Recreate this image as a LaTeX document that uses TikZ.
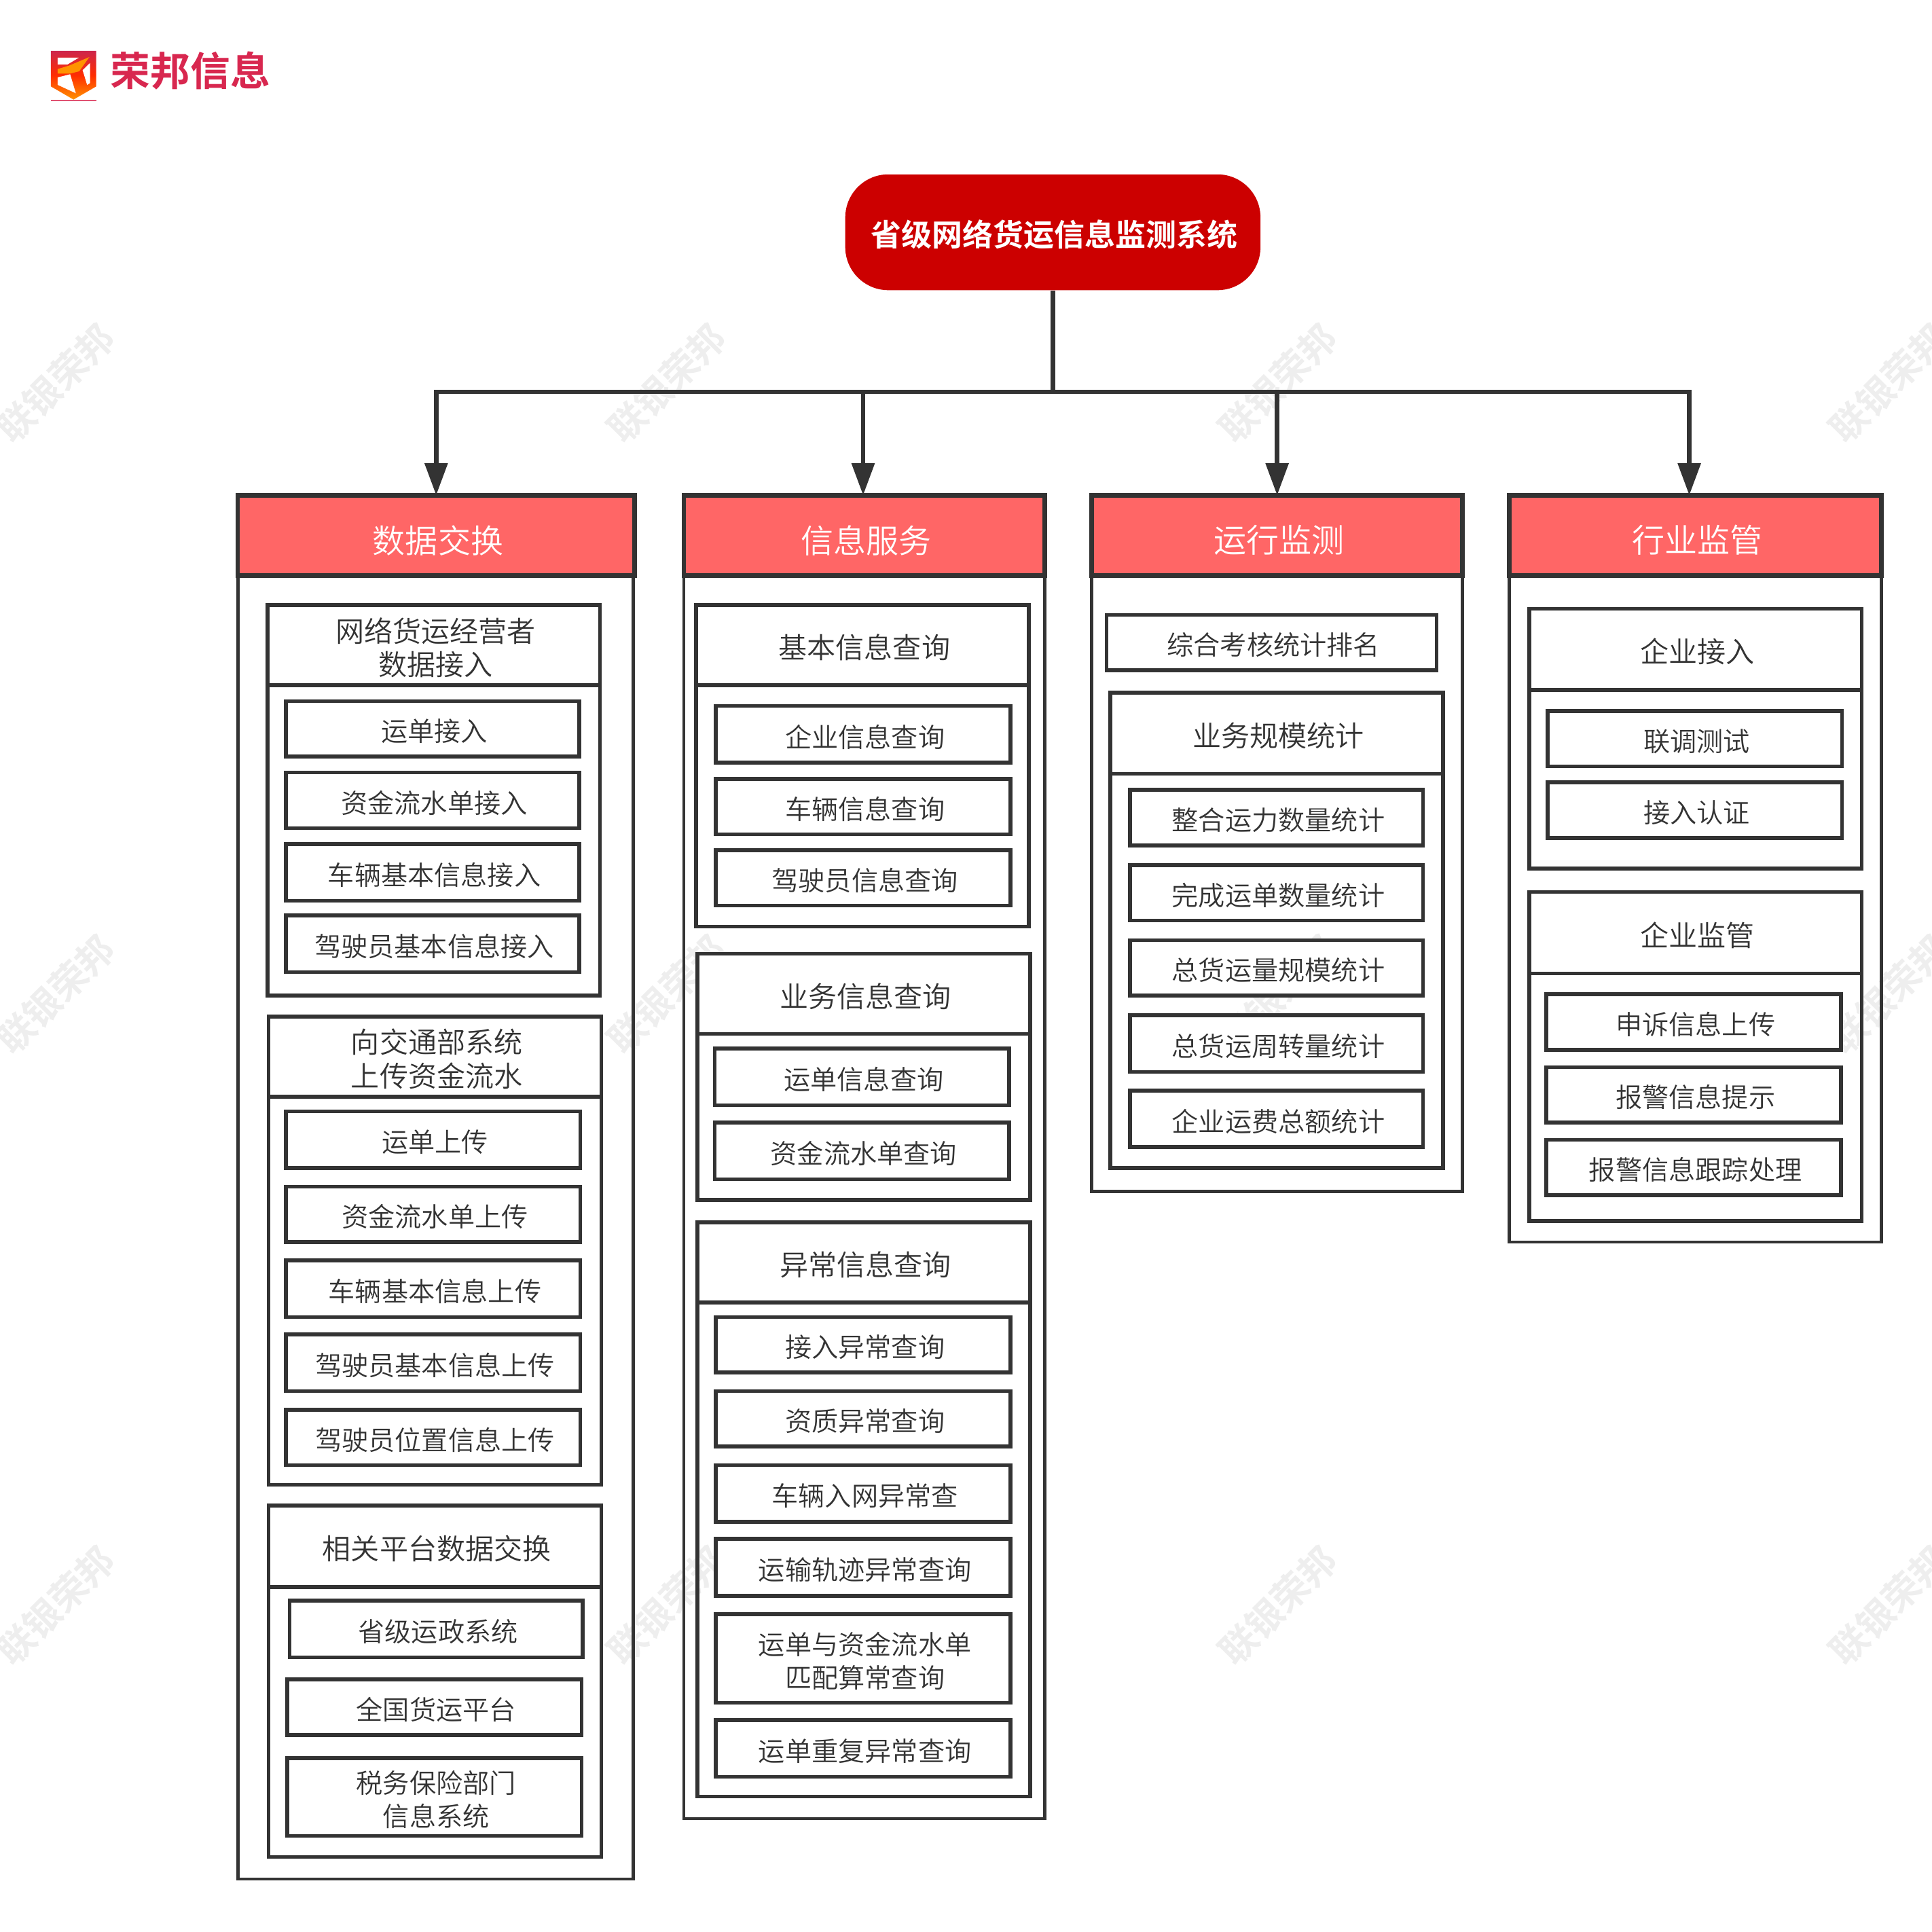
\documentclass[tikz,border=0pt]{standalone}
\usepackage{fontspec}
\setmainfont{Noto Sans CJK SC}[UprightFont=* DemiLight,BoldFont=* Bold]
\usetikzlibrary{arrows.meta}
\definecolor{ink}{HTML}{333333}
\definecolor{headred}{HTML}{FF6666}
\definecolor{titlered}{HTML}{CC0000}
\definecolor{logored}{HTML}{D8274F}
\definecolor{wm}{HTML}{EEEEEE}
\tikzset{
  plainbox/.style={draw=ink,fill=white,line width=1.55pt,inner sep=0pt,outer sep=0pt,text=ink,align=center},
  outerbody/.style={plainbox,fill=none,line width=1.3pt},
  colhead/.style={plainbox,fill=headred,text=white,line width=1.8pt,font=\fontsize{13.25}{16}\selectfont},
  subbody/.style={plainbox,fill=none},
  subhead/.style={plainbox,font=\fontsize{11.6}{13.6}\selectfont},
  itembox/.style={plainbox,font=\fontsize{10.8}{13.4}\selectfont},
  conn/.style={draw=ink,line width=1.85pt},
  arrowconn/.style={conn,-{Triangle[length=13pt,width=9pt]}},
  watermark/.style={text=wm,rotate=45,font=\fontsize{15}{18}\bfseries,inner sep=0pt},
}
\newcommand{\bx}[8][1pt]{%
  \node[#3,minimum width={(#6-#4)*0.5pt},minimum height={(#7-#5)*0.5pt}] (#2) at ({(#4+#6)/2},{(#5+#7)/2}) {};
  \node[#3,draw=none,fill=none,xshift=0.75pt,yshift=-#1] (#2t) at ({(#4+#6)/2},{(#5+#7)/2}) {#8};}
\newcommand{\bxe}[6]{\node[#2,minimum width={(#5-#3)*0.5pt},minimum height={(#6-#4)*0.5pt}] (#1) at ({(#3+#5)/2},{(#4+#6)/2}) {};}
\begin{document}
\begin{tikzpicture}[x=0.5pt,y=-0.5pt]
\useasboundingbox (0,0) rectangle (1568,1567.45);
\clip (0,0) rectangle (1568,1567.45);
\fill[white] (0,0) rectangle (1568,1567.45);
% watermarks
\foreach \wx/\wy [count=\wi] in {45/311,541/311,1037/311,1533/311,45/807,541/807,1037/807,1533/807,45/1303,541/1303,1037/1303,1533/1303}
  \node[watermark] (wm\wi) at (\wx,\wy) {联银荣邦};
% logo
\begin{scope}[shift={(11.02pt,-11.02pt)},x=0.09185pt,y=-0.09185pt]
  \shade[top color=logored!95!black,bottom color=orange!85!yellow,middle color=red!65!orange]
    (105,105) -- (305,105) -- (305,262) -- (205,320) -- (105,262) -- cycle;
  \fill[white] (135,135) -- (228,135) -- (178,165) -- (135,165) -- cycle;
  \fill[white] (135,222) -- (190,208) -- (215,292) -- (135,255) -- cycle;
  \fill[white] (278,158) -- (245,190) -- (265,255) -- (278,247) -- cycle;
  \fill[orange!85!yellow] (135,185) -- (185,170) -- (275,132) -- (230,195) -- (190,205) -- (135,205) -- cycle;
  \draw[logored!80!white,line width=0.6pt] (105,323) -- (305,323);
\end{scope}
\node[text=logored,font=\fontsize{16.2}{18}\bfseries,inner sep=0pt] (logotext) at (154.5,57.5) {荣邦信息};
% title
\node[fill=titlered,text=white,rounded corners=17.5pt,inner sep=0pt,minimum width=168.5pt,minimum height=47pt,font=\fontsize{12.4}{15}\bfseries] (title) at (854.5,188.5) {\hspace*{1pt}\raisebox{-1pt}[\height][\depth]{省级网络货运信息监测系统}};
% column 1
\bxe{c1b}{outerbody}{193}{467}{514}{1525}
\bx[2pt]{c1h}{colhead}{193}{402}{515}{467}{数据交换}
\bxe{s11b}{subbody}{217}{556}{487}{808}
\bx{s11h}{subhead}{217}{491}{487}{556}{网络货运经营者\\数据接入}
\bx{i111}{itembox}{232}{569}{470}{614}{运单接入}
\bx{i112}{itembox}{232}{627}{470}{672}{资金流水单接入}
\bx{i113}{itembox}{232}{685}{470}{731}{车辆基本信息接入}
\bx{i114}{itembox}{232}{743}{470}{789}{驾驶员基本信息接入}
\bxe{s12b}{subbody}{218}{890}{488}{1205}
\bx{s12h}{subhead}{218}{825}{488}{890}{向交通部系统\\上传资金流水}
\bx{i121}{itembox}{232}{902}{471}{948}{运单上传}
\bx{i122}{itembox}{232}{963}{471}{1008}{资金流水单上传}
\bx{i123}{itembox}{232}{1023}{471}{1069}{车辆基本信息上传}
\bx{i124}{itembox}{232}{1083}{471}{1129}{驾驶员基本信息上传}
\bx{i125}{itembox}{232}{1144}{471}{1189}{驾驶员位置信息上传}
\bxe{s13b}{subbody}{218}{1288}{488}{1507}
\bx{s13h}{subhead}{218}{1222}{488}{1288}{相关平台数据交换}
\bx{i131}{itembox}{235}{1299}{473}{1345}{省级运政系统}
\bx{i132}{itembox}{233}{1363}{472}{1408}{全国货运平台}
\bx{i133}{itembox}{233}{1427}{472}{1490}{税务保险部门\\信息系统}
% column 2
\bxe{c2b}{outerbody}{555}{467}{848}{1476}
\bx[2pt]{c2h}{colhead}{555}{402}{848}{467}{信息服务}
\bxe{s21b}{subbody}{565}{556}{835}{752}
\bx{s21h}{subhead}{565}{491}{835}{556}{基本信息查询}
\bx{i211}{itembox}{581}{573}{820}{619}{企业信息查询}
\bx{i212}{itembox}{581}{632}{820}{677}{车辆信息查询}
\bx{i213}{itembox}{581}{690}{820}{735}{驾驶员信息查询}
\bxe{s22b}{subbody}{566}{839}{836}{974}
\bx{s22h}{subhead}{566}{774}{836}{839}{业务信息查询}
\bx{i221}{itembox}{580}{851}{819}{897}{运单信息查询}
\bx{i222}{itembox}{580}{911}{819}{957}{资金流水单查询}
\bxe{s23b}{subbody}{566}{1057}{836}{1458}
\bx{s23h}{subhead}{566}{992}{836}{1057}{异常信息查询}
\bx{i231}{itembox}{581}{1069}{820}{1114}{接入异常查询}
\bx{i232}{itembox}{581}{1129}{820}{1174}{资质异常查询}
\bx{i233}{itembox}{581}{1189}{820}{1235}{车辆入网异常查}
\bx{i234}{itembox}{581}{1249}{820}{1295}{运输轨迹异常查询}
\bx{i235}{itembox}{581}{1310}{820}{1382}{运单与资金流水单\\匹配算常查询}
\bx{i236}{itembox}{581}{1396}{820}{1442}{运单重复异常查询}
% column 3
\bxe{c3b}{outerbody}{886}{467}{1187}{967}
\bx[2pt]{c3h}{colhead}{886}{402}{1187}{467}{运行监测}
\bx{i301}{itembox}{898}{499}{1166}{544}{综合考核统计排名}
\bxe{s31b}{subbody}{901}{628}{1171}{948}
\bx{s31h}{subhead}{901}{562}{1171}{628}{业务规模统计}
\bx{i311}{itembox}{917}{641}{1155}{686}{整合运力数量统计}
\bx{i312}{itembox}{917}{702}{1155}{747}{完成运单数量统计}
\bx{i313}{itembox}{917}{763}{1155}{808}{总货运量规模统计}
\bx{i314}{itembox}{917}{824}{1155}{870}{总货运周转量统计}
\bx{i315}{itembox}{917}{885}{1155}{931}{企业运费总额统计}
% column 4
\bxe{c4b}{outerbody}{1225}{467}{1527}{1008}
\bx[2pt]{c4h}{colhead}{1225}{402}{1527}{467}{行业监管}
\bxe{s41b}{subbody}{1241}{560}{1511}{705}
\bx{s41h}{subhead}{1241}{494}{1511}{560}{企业接入}
\bx{i411}{itembox}{1256}{577}{1495}{622}{联调测试}
\bx{i412}{itembox}{1256}{635}{1495}{680}{接入认证}
\bxe{s42b}{subbody}{1241}{790}{1511}{991}
\bx{s42h}{subhead}{1241}{724}{1511}{790}{企业监管}
\bx{i421}{itembox}{1255}{807}{1494}{852}{申诉信息上传}
\bx{i422}{itembox}{1255}{866}{1494}{911}{报警信息提示}
\bx{i423}{itembox}{1255}{925}{1494}{970}{报警信息跟踪处理}
% connectors
\coordinate (bus) at (854.5,318);
\draw[conn] (title.south) -- (bus);
\draw[arrowconn] (bus) -| (c1h.north);
\draw[arrowconn] (bus) -| ([xshift=-0.5pt]c2h.north);
\draw[arrowconn] (bus) -| (c3h.north);
\draw[arrowconn] (bus) -| ([xshift=-2.5pt]c4h.north);
\end{tikzpicture}
\end{document}
